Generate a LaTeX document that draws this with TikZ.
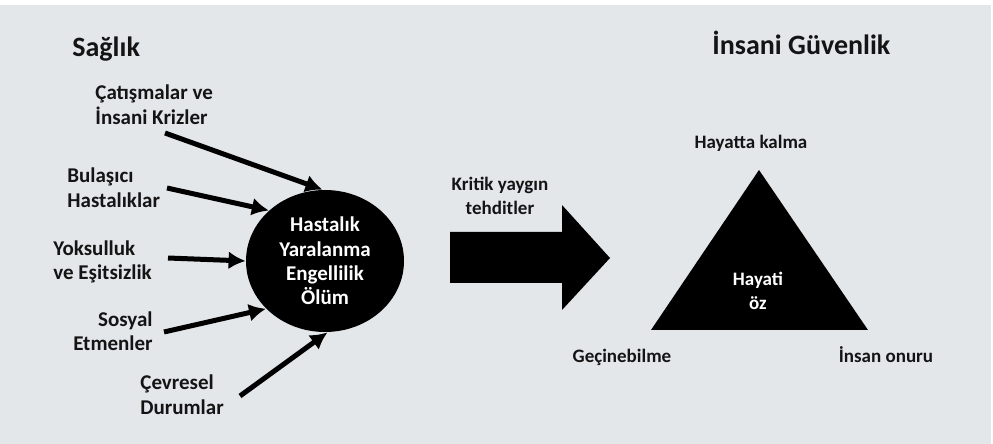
\documentclass[tikz,border=0pt]{standalone}
\usepackage{fontspec}
\setmainfont{Carlito}
\usepackage{xcolor}
\usetikzlibrary{arrows.meta}
\usetikzlibrary{shapes.geometric}
\usetikzlibrary{math}
\definecolor{arkaplan}{RGB}{227,231,234}
\definecolor{yazi}{RGB}{20,20,20}

\tikzset{
  baslik/.style={font=\fontsize{14}{17}\selectfont\bfseries, inner sep=0pt, text=yazi},
  etiket/.style={font=\fontsize{10.5}{12.5}\selectfont\bfseries, inner sep=0pt, text=yazi},
  kucuk/.style={font=\fontsize{9.5}{12}\selectfont\bfseries, inner sep=0pt, align=center, text=yazi},
  pil/.style={-{Latex[length=8.5pt,width=9pt]}, line width=2.5pt},
}

\begin{document}
\begin{tikzpicture}[x=0.5pt,y=-0.5pt]
\tikzmath{
\W=993;
\H=444;
}
\useasboundingbox (0,0) rectangle (\W,\H);
\fill[white] (0,0) rectangle (\W,\H);
\fill[arkaplan] (0,5) rectangle (\W-2,\H);

%sol taraf
\node[baslik, anchor=base west] (saglik) at (72,57) {Sağlık};
\node[etiket, anchor=base west, align=left] (catisma) at (95,125) {Çatışmalar ve\\İnsani Krizler};
\node[etiket, anchor=base west, align=left] (bulasici) at (67,208) {Bulaşıcı\\Hastalıklar};
\node[etiket, anchor=base west, align=left] (yoksul) at (53,280) {Yoksulluk\\ve Eşitsizlik};
\node[etiket, anchor=base east, align=right] (sosyal) at (153,351) {Sosyal\\Etmenler};
\node[etiket, anchor=base west, align=left] (cevre) at (140,415) {Çevresel\\Durumlar};

\node[ellipse, fill=black, minimum width=79pt, minimum height=71pt, inner sep=0pt,
      font=\fontsize{10.5}{12.2}\selectfont\bfseries, text=white, align=center] (etki) at (325,261)
      {Hastalık\\Yaralanma\\Engellilik\\Ölüm};

\coordinate (s1) at (165,133);
\coordinate (s2) at (167,188);
\coordinate (s3) at (168,258);
\coordinate (s4) at (164,332);
\coordinate (s5) at (240,396);
\draw[pil] (s1) -- (etki.92);
\draw[pil] (s2) -- (etki.138);
\draw[pil] (s3) -- (etki.180);
\draw[pil] (s4) -- (etki.219);
\draw[pil] (s5) -- (etki.272);

%orta ok
\node[kucuk, anchor=base] (kritik) at (500,215) {Kritik yaygın\\tehditler};
\fill[black] (450,232) -- (562,232) -- (562,205) -- (610,258) -- (562,310) -- (562,283) -- (450,283) -- cycle;

%sag taraf
\node[baslik, anchor=base west] (guvenlik) at (712,55) {İnsani Güvenlik};
\fill[black] (759,170) -- (868,330) -- (651,330) -- cycle;
\node[kucuk, anchor=base] (kalma) at (751,149) {Hayatta kalma};
\node[kucuk, anchor=base, text=white] (oz) at (758,310) {Hayati\\öz};
\node[kucuk, anchor=base] (gecim) at (622,363) {Geçinebilme};
\node[kucuk, anchor=base] (onur) at (886,363) {İnsan onuru};
\end{tikzpicture}
\end{document}
